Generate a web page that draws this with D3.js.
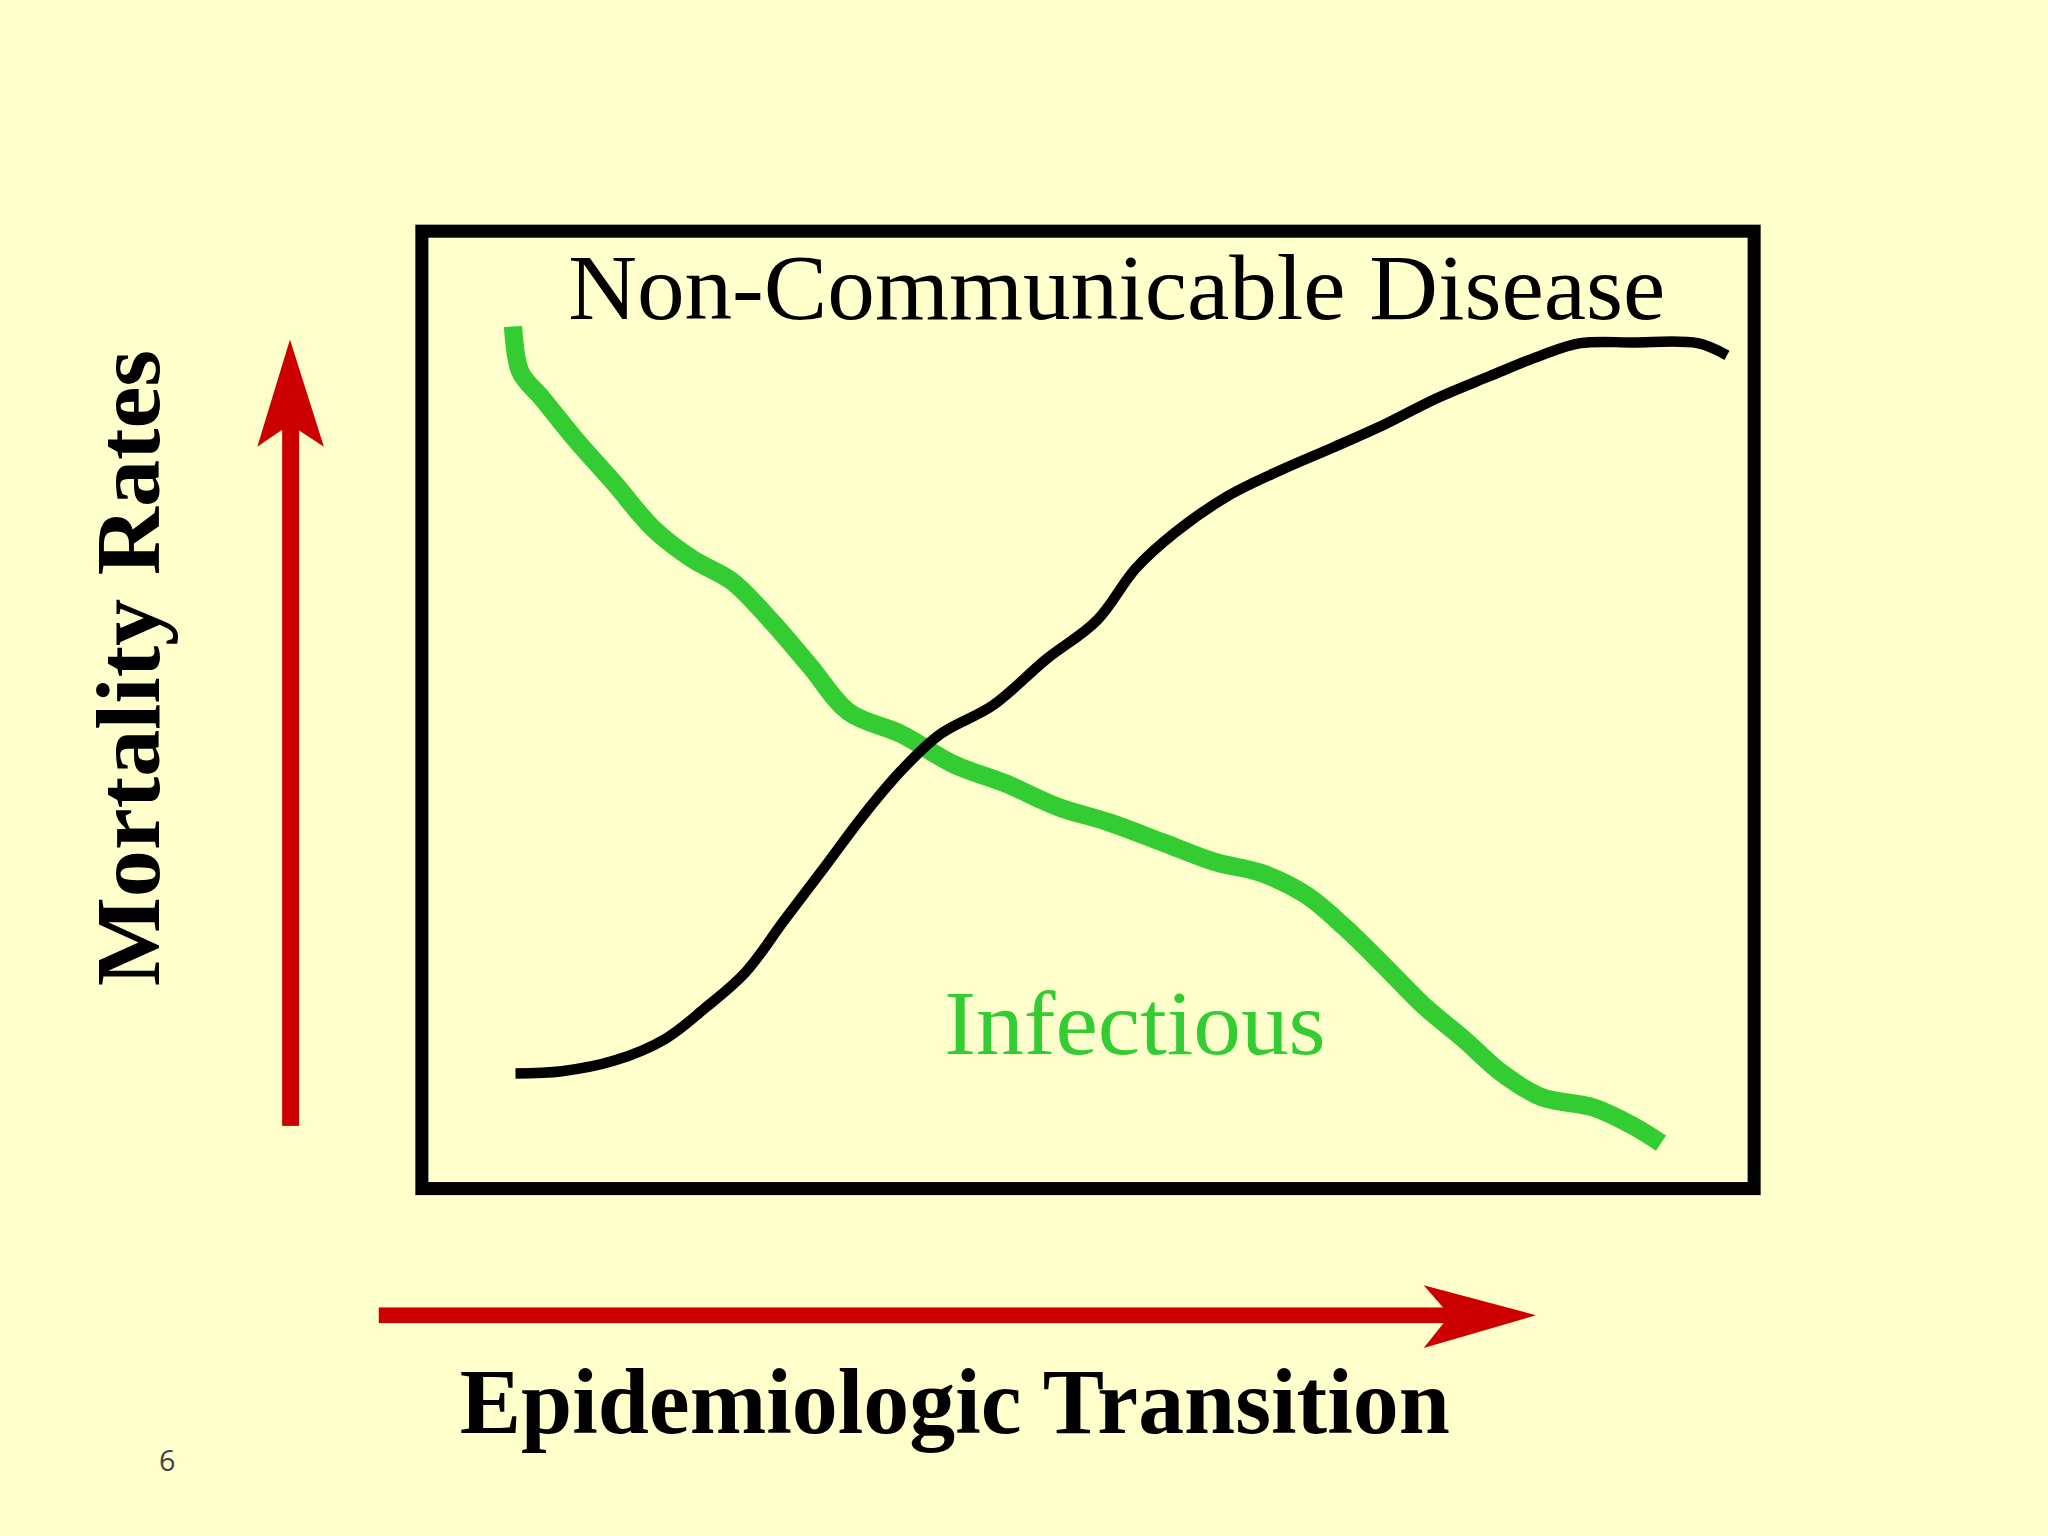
<!DOCTYPE html>
<html><head><meta charset="utf-8">
<script src="https://cdn.jsdelivr.net/npm/d3@7"></script>
<style>html,body{margin:0;padding:0;background:#FFFFCC;}</style>
</head><body>
<script>
// Data (normalized 0-100)
const ncdX = [0.5,4.3,8.6,12.8,16.0,19.3,22.5,25.7,28.9,32.1,35.3,39.6,43.9,48.1,51.3,54.5,58.8,63.1,67.4,71.7,75.9,80.2,84.5,87.7,92.0,97.3,99.7];
const ncdY = [1.4,1.7,3.1,6.0,10.0,14.7,21.6,28.4,35.3,41.4,46.2,50.0,56.0,61.2,68.1,72.8,77.6,81.0,84.0,87.1,90.5,93.4,96.2,97.8,97.9,97.8,96.2];
const infX = [0.3,0.9,2.7,5.3,8.6,11.8,15.0,18.2,21.4,24.6,27.8,32.1,36.4,40.6,44.9,49.2,53.5,57.8,61.5,65.2,68.4,71.7,74.9,78.1,81.3,84.5,88.8,92.0,94.3];
const infY = [100,94.0,90.5,85.3,79.3,73.3,69.3,66.4,61.2,55.2,49.1,46.2,42.2,39.7,36.6,34.5,31.9,29.3,27.9,25.0,20.7,15.5,10.3,6.0,1.4,-1.7,-3.1,-5.5,-7.8];
const labels = {ncd:"Non-Communicable Disease", inf:"Infectious", y:"Mortality  Rates", x:"Epidemiologic Transition", page:"6"};

const s = 2048/1568;
const W=2048,H=1536;
const svg = d3.select("body").append("svg").attr("width",W).attr("height",H);
svg.append("rect").attr("width",W).attr("height",H).attr("fill","#FFFFCC");

const x = d3.scaleLinear().domain([0,100]).range([390*s,1325*s]);
const y = d3.scaleLinear().domain([0,100]).range([830*s,250*s]);

// box
svg.append("rect").attr("x",323*s).attr("y",177*s).attr("width",1020*s).attr("height",733*s)
  .attr("fill","none").attr("stroke","#000").attr("stroke-width",10*s);

const line = d3.line().x(d=>x(d[0])).y(d=>y(d[1])).curve(d3.curveCatmullRom);
svg.append("path").datum(infX.map((v,i)=>[v,infY[i]])).attr("d",line)
  .attr("fill","none").attr("stroke","#33CC33").attr("stroke-width",14*s).attr("stroke-linejoin","round");
svg.append("path").datum(ncdX.map((v,i)=>[v,ncdY[i]])).attr("d",line)
  .attr("fill","none").attr("stroke","#000").attr("stroke-width",8*s).attr("stroke-linejoin","round");

const serif = "'Liberation Serif','DejaVu Serif',serif";
svg.append("text").attr("x",435*s).attr("y",244*s).attr("font-family",serif).attr("font-size",72*s)
  .attr("textLength",840*s).attr("lengthAdjust","spacingAndGlyphs").attr("fill","#000").text(labels.ncd);
svg.append("text").attr("x",723*s).attr("y",807*s).attr("font-family",serif).attr("font-size",70*s)
  .attr("textLength",292*s).attr("lengthAdjust","spacingAndGlyphs").attr("fill","#33CC33").text(labels.inf);
svg.append("text").attr("transform",`translate(${122*s},${755*s}) rotate(-90)`).attr("font-family",serif)
  .attr("font-weight","bold").attr("font-size",70*s).attr("textLength",487*s).attr("lengthAdjust","spacingAndGlyphs")
  .attr("fill","#000").text(labels.y);
svg.append("text").attr("x",352*s).attr("y",1097*s).attr("font-family",serif).attr("font-weight","bold").attr("font-size",72*s)
  .attr("textLength",758*s).attr("lengthAdjust","spacingAndGlyphs").attr("fill","#000").text(labels.x);
svg.append("text").attr("x",128*s).attr("y",1126*s).attr("text-anchor","middle").attr("font-family","'Open Sans',sans-serif")
  .attr("font-size",22*s).attr("fill","#444").text(labels.page);

// red arrows
const red="#CC0000";
svg.append("rect").attr("x",216*s).attr("y",320*s).attr("width",13*s).attr("height",542*s).attr("fill",red);
svg.append("path").attr("d",`M${222*s},${260*s} L${248*s},${342*s} L${222*s},${325*s} L${197*s},${342*s} Z`).attr("fill",red);
svg.append("rect").attr("x",290*s).attr("y",1001*s).attr("width",820*s).attr("height",12*s).attr("fill",red);
svg.append("path").attr("d",`M${1176*s},${1007*s} L${1090*s},${984*s} L${1110*s},${1007*s} L${1090*s},${1032*s} Z`).attr("fill",red);
</script>
</body></html>
